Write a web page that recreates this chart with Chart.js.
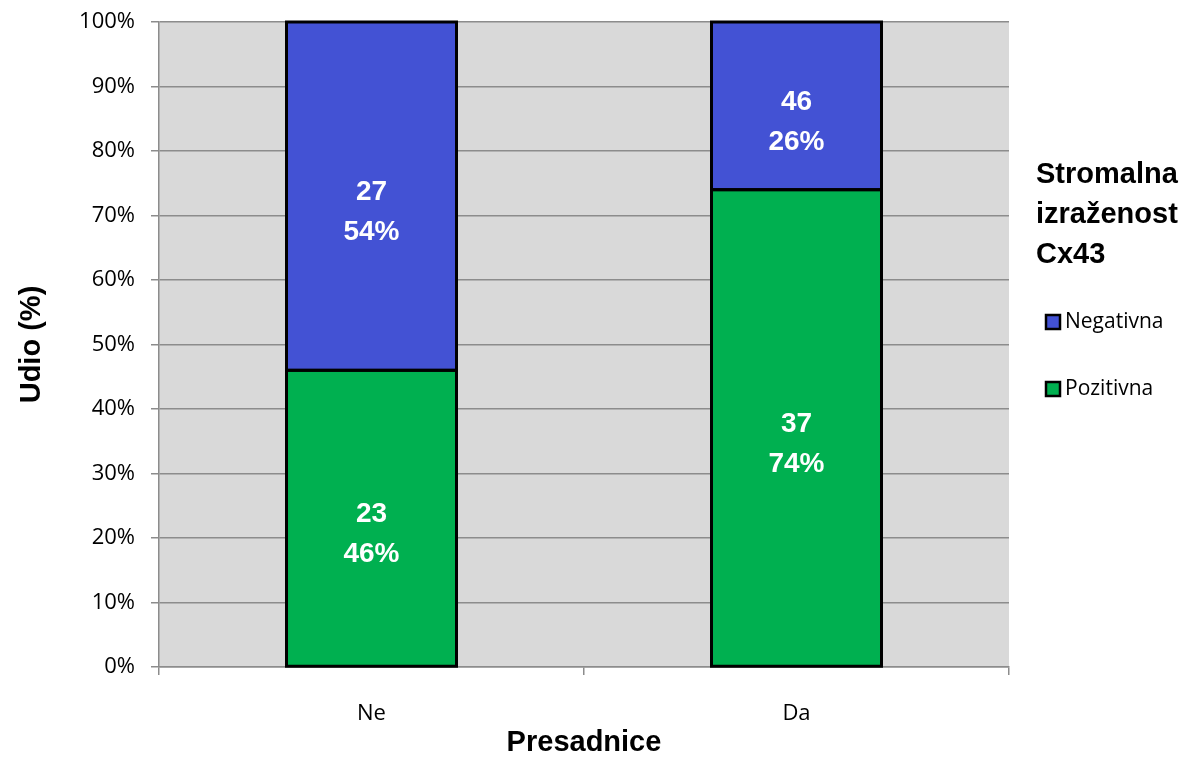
<!DOCTYPE html>
<html>
<head>
<meta charset="utf-8">
<script src="https://cdn.jsdelivr.net/npm/chart.js@4"></script>
<style>
  html, body { margin: 0; padding: 0; background: #fff; }
  #wrap { width: 1184px; height: 757px; }
</style>
</head>
<body>
<div id="wrap"><canvas id="cx43Chart"></canvas></div>
<script>
const categories = ['Ne', 'Da'];
const pozitivnaPct = [46, 74];
const negativnaPct = [54, 26];
const pozitivnaN = [23, 37];
const negativnaN = [27, 46];
const yTicks = [0, 10, 20, 30, 40, 50, 60, 70, 80, 90, 100];
const legendTitle = ['Stromalna', 'izraženost', 'Cx43'];

const tickFont = '"Open Sans", "Noto Sans", sans-serif';
const boldFont = '"Liberation Sans", Arial, sans-serif';

// gray plot background
const plotBg = {
    id: 'plotBg',
    beforeDraw(chart) {
        const { ctx, chartArea: a } = chart;
        ctx.save();
        ctx.fillStyle = '#d9d9d9';
        ctx.fillRect(a.left, a.top, a.right - a.left, a.bottom - a.top);
        ctx.restore();
    }
};

// black outlines centred on the segment edges, then white count + percent labels
const segLabels = {
    id: 'segLabels',
    afterDatasetsDraw(chart) {
        const ctx = chart.ctx;
        ctx.save();
        ctx.strokeStyle = '#000';
        ctx.lineWidth = 3;
        chart.data.datasets.forEach((ds, di) => {
            chart.getDatasetMeta(di).data.forEach((bar) => {
                const top = Math.min(bar.y, bar.base);
                ctx.strokeRect(bar.x - bar.width / 2, top, bar.width, Math.abs(bar.base - bar.y));
            });
        });
        ctx.fillStyle = '#fff';
        ctx.font = 'bold 28px ' + boldFont;
        ctx.textAlign = 'center';
        ctx.textBaseline = 'middle';
        chart.data.datasets.forEach((ds, di) => {
            chart.getDatasetMeta(di).data.forEach((bar, i) => {
                const mid = (bar.y + bar.base) / 2 + 16;
                ctx.fillText(String(ds.counts[i]), bar.x, mid - 20);
                ctx.fillText(ds.data[i] + '%', bar.x, mid + 20);
            });
        });
        ctx.restore();
    }
};

// legend on the right with a three-line bold title
const sideLegend = {
    id: 'sideLegend',
    afterDraw(chart) {
        const ctx = chart.ctx;
        ctx.save();
        ctx.fillStyle = '#000';
        ctx.font = 'bold 29px ' + boldFont;
        ctx.textAlign = 'left';
        ctx.textBaseline = 'middle';
        legendTitle.forEach((t, i) => ctx.fillText(t, 1036, 175 + i * 40));
        const order = [1, 0];
        order.forEach((di, k) => {
            const ds = chart.data.datasets[di];
            const y = 322 + k * 67;
            ctx.fillStyle = ds.backgroundColor;
            ctx.fillRect(1046, y - 7, 14, 14);
            ctx.lineWidth = 2.5;
            ctx.strokeStyle = '#000';
            ctx.strokeRect(1046, y - 7, 14, 14);
            ctx.fillStyle = '#000';
            ctx.font = '21px ' + tickFont;
            ctx.fillText(ds.label, 1065, y);
        });
        ctx.restore();
    }
};

new Chart(document.getElementById('cx43Chart'), {
    type: 'bar',
    data: {
        labels: categories,
        datasets: [
            {
                label: 'Pozitivna',
                data: pozitivnaPct,
                counts: pozitivnaN,
                backgroundColor: '#00b050',
                borderWidth: 0,
                categoryPercentage: 1,
                barPercentage: 0.4
            },
            {
                label: 'Negativna',
                data: negativnaPct,
                counts: negativnaN,
                backgroundColor: '#4352d4',
                borderWidth: 0,
                categoryPercentage: 1,
                barPercentage: 0.4
            }
        ]
    },
    options: {
        responsive: true,
        maintainAspectRatio: false,
        animation: false,
        layout: { padding: { top: 22, right: 175, left: 0, bottom: 0 } },
        plugins: {
            legend: { display: false },
            tooltip: { enabled: false }
        },
        scales: {
            x: {
                stacked: true,
                afterFit: (s) => { s.height = 90; },
                grid: { drawOnChartArea: false, drawTicks: true, tickLength: 8, color: '#8c8c8c', lineWidth: 1.5 },
                border: { color: '#8c8c8c', width: 1.5 },
                ticks: { color: '#000', font: { family: tickFont, size: 22 }, padding: 26 },
                title: {
                    display: true,
                    text: 'Presadnice',
                    color: '#000',
                    font: { family: boldFont, size: 29, weight: 'bold' },
                    padding: { top: 0, bottom: -3 }
                }
            },
            y: {
                stacked: true,
                min: 0,
                max: 100,
                afterFit: (s) => { s.width = 159; s.paddingTop = 0; s.paddingBottom = 0; },
                afterBuildTicks: (s) => { s.ticks = yTicks.map(v => ({ value: v })); },
                grid: { color: '#8c8c8c', lineWidth: 1.5, tickLength: 8 },
                border: { color: '#8c8c8c', width: 1.5 },
                ticks: {
                    color: '#000',
                    font: { family: tickFont, size: 22 },
                    padding: 16,
                    callback: (v) => v + '%'
                },
                title: {
                    display: true,
                    text: 'Udio (%)',
                    color: '#000',
                    font: { family: boldFont, size: 29, weight: 'bold' },
                    padding: { top: 15, bottom: 0 }
                }
            }
        }
    },
    plugins: [plotBg, segLabels, sideLegend]
});
</script>
</body>
</html>
